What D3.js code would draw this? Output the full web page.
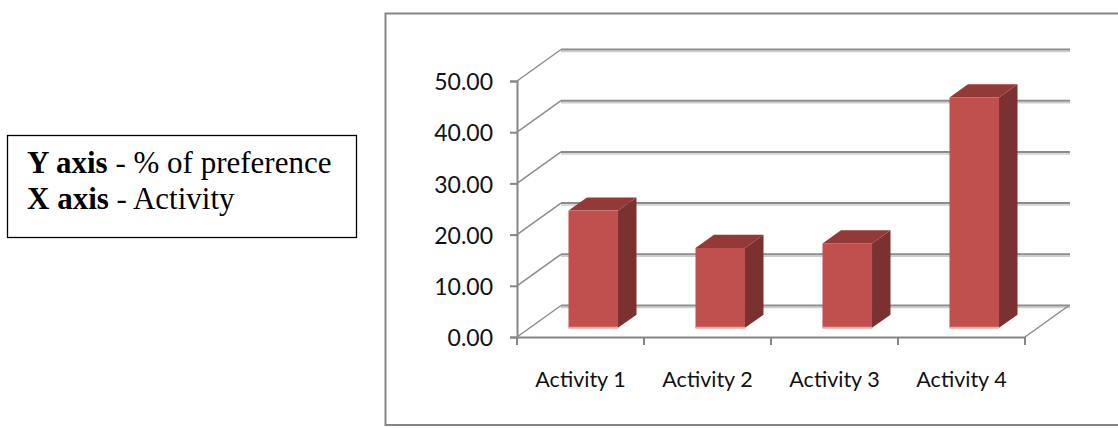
<!DOCTYPE html>
<html><head><meta charset="utf-8">
<script src="https://cdn.jsdelivr.net/npm/d3@7"></script>
<style>
html,body{margin:0;padding:0;background:#fff;}
svg{display:block;}
</style></head>
<body>
<svg id="chart" width="1118" height="428"></svg>
<script>
const categories = ["Activity 1", "Activity 2", "Activity 3", "Activity 4"];
const values = [22.9, 15.6, 16.5, 45.0];
const yTicks = [0, 10, 20, 30, 40, 50];
const tickFormat = d => d.toFixed(2);
const noteLines = [["Y axis", " - % of preference"], ["X axis", " - Activity"]];

const svg = d3.select("#chart");

// left note box
const box = svg.append("g");
box.append("rect").attr("x", 7.5).attr("y", 135.5).attr("width", 349).attr("height", 102)
  .attr("fill", "#fff").attr("stroke", "#000").attr("stroke-width", 1.3);
noteLines.forEach((ln, i) => {
  const t = box.append("text").attr("x", 27).attr("y", 173 + i * 36)
    .attr("font-family", "Liberation Serif, Times New Roman, serif").attr("font-size", 31).attr("fill", "#000");
  t.append("tspan").attr("font-weight", "bold").text(ln[0]);
  t.append("tspan").text(ln[1]);
});

// outer chart frame
svg.append("rect").attr("x", 385.5).attr("y", 13.5).attr("width", 800).attr("height", 411.5)
  .attr("fill", "none").attr("stroke", "#868686").attr("stroke-width", 2);

// scales
const y = d3.scaleLinear().domain([0, 50]).range([337, 81]);
const x = d3.scaleBand().domain(categories).range([517, 1025]).paddingInner(0).paddingOuter(0);
const DX = 44, DY = -31.5;   // depth vector
const backRight = 1070;

const grid = svg.append("g");
yTicks.forEach(v => {
  const yy = y(v);
  grid.append("line").attr("x1", x.range()[0]).attr("y1", yy).attr("x2", x.range()[0] + DX).attr("y2", yy + DY)
    .attr("stroke", "#8c8c8c").attr("stroke-width", 1.5);
  grid.append("line").attr("x1", x.range()[0] + DX).attr("y1", yy + DY + 2).attr("x2", backRight).attr("y2", yy + DY + 2)
    .attr("stroke", "#cdcdcd").attr("stroke-width", 1.5);
  grid.append("line").attr("x1", x.range()[0] + DX).attr("y1", yy + DY).attr("x2", backRight).attr("y2", yy + DY)
    .attr("stroke", "#8c8c8c").attr("stroke-width", 2);
});
grid.append("line").attr("x1", x.range()[1]).attr("y1", y(0)).attr("x2", x.range()[1] + DX).attr("y2", y(0) + DY)
  .attr("stroke", "#8c8c8c").attr("stroke-width", 1.5);

// axes
const yAxis = d3.axisLeft(y).tickValues(yTicks).tickFormat(tickFormat).tickSize(7).tickPadding(17);
const gy = svg.append("g").attr("transform", `translate(${x.range()[0]},0)`).call(yAxis);
gy.select(".domain").attr("stroke", "#868686").attr("stroke-width", 2);
gy.selectAll(".tick line").attr("stroke", "#868686").attr("stroke-width", 2);
gy.selectAll(".tick text").attr("font-family", "Lato, Carlito, Calibri, sans-serif").attr("font-size", 23).attr("fill", "#111").attr("dy", "0.38em");

const xAxis = d3.axisBottom(x).tickSize(0).tickPadding(35);
const gx = svg.append("g").attr("transform", `translate(0,${y(0)})`).call(xAxis);
gx.select(".domain").attr("stroke", "#868686").attr("stroke-width", 2);
gx.selectAll(".tick text").attr("font-family", "Lato, Carlito, Calibri, sans-serif").attr("font-size", 21.5).attr("fill", "#111");
const edges = categories.map(c => x(c)).concat([x.range()[1]]);
gx.selectAll(".edge").data(edges).enter().append("line").attr("class", "edge")
  .attr("x1", d => d).attr("x2", d => d).attr("y1", 0).attr("y2", 8)
  .attr("stroke", "#868686").attr("stroke-width", 2);

// 3D bars
const f0 = 0.29, f1 = 0.71;
const barW = x.bandwidth() * 0.39;
const bars = svg.append("g");
categories.forEach((c, i) => {
  const v = values[i];
  const x0 = x(c) + (x.bandwidth() - barW) / 2 + DX * f0;
  const x1 = x0 + barW;
  const yb = y(0) + DY * f0;
  const yt = y(v) + DY * f0;
  const ddx = DX * (f1 - f0), ddy = DY * (f1 - f0);
  bars.append("path").attr("d", `M${x1},${yt}L${x1 + ddx},${yt + ddy}L${x1 + ddx},${yb + ddy}L${x1},${yb}Z`)
    .attr("fill", "#7b3130");
  bars.append("path").attr("d", `M${x0},${yt}L${x0 + ddx},${yt + ddy}L${x1 + ddx},${yt + ddy}L${x1},${yt}Z`)
    .attr("fill", "#933937");
  bars.append("rect").attr("x", x0).attr("y", yt).attr("width", barW).attr("height", yb - yt)
    .attr("fill", "#c0504d");
  bars.append("line").attr("x1", x0).attr("x2", x1).attr("y1", yb).attr("y2", yb)
    .attr("stroke", "#e3aaa8").attr("stroke-width", 2);
});
</script>
</body></html>
